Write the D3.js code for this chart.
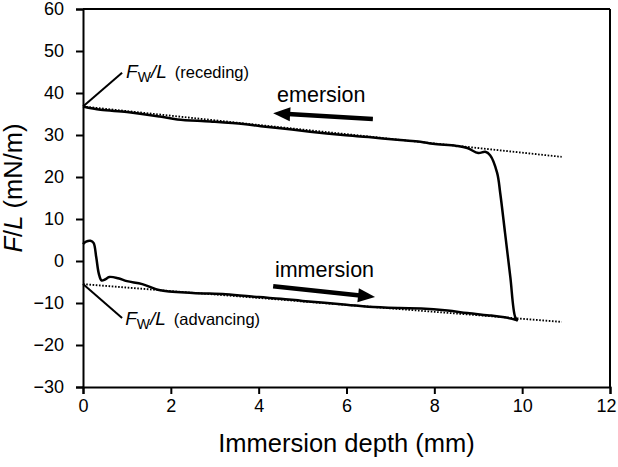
<!DOCTYPE html>
<html><head><meta charset="utf-8">
<script src="https://cdn.jsdelivr.net/npm/d3@7/dist/d3.min.js"></script>
<style>body{margin:0;background:#fff}svg{display:block}text{font-family:"Liberation Sans",Arial,sans-serif;fill:#000}</style>
</head><body><svg id="c" width="618" height="467"></svg>
<script>
// ---- data ----
const xTicks = [0, 2, 4, 6, 8, 10, 12];
const yTicks = [-30, -20, -10, 0, 10, 20, 30, 40, 50, 60];
const xTitle = "Immersion depth (mm)";
const immersionDepth = [0, 0.07, 0.17, 0.24, 0.3, 0.36, 0.42, 0.5, 0.6, 0.8, 1.0, 1.35, 1.73, 2.5, 3.25, 4.0, 4.5, 5.0, 6.0, 6.5, 7.2, 7.7, 8.3, 8.75, 9.3, 9.6, 9.85, 9.9];
const immersionForce = [4.0, 4.6, 4.8, 4.3, 1.0, -3.0, -4.6, -4.4, -3.8, -4.1, -4.8, -5.5, -6.9, -7.6, -7.9, -8.6, -9.0, -9.5, -10.4, -10.9, -11.2, -11.3, -11.8, -12.4, -13.0, -13.4, -14.0, -14.2];
const emersionDepth = [9.9, 9.84, 9.73, 9.61, 9.5, 9.43, 9.27, 9.16, 9.0, 8.75, 8.5, 7.97, 7.68, 7.22, 6.5, 5.92, 5.17, 4.6, 4.05, 3.65, 2.9, 2.15, 1.75, 1.0, 0.4, 0];
const emersionForce = [-14.2, -13.3, -3.8, 6.7, 16.2, 21.0, 25.2, 26.0, 25.7, 26.9, 27.4, 27.9, 28.4, 28.8, 29.5, 30.0, 30.8, 31.5, 32.1, 32.6, 33.2, 33.7, 34.4, 35.5, 36.0, 36.8];
const recedingFitDepth = [0, 10.9];
const recedingFitForce = [36.8, 24.8];
const advancingFitDepth = [0, 10.9];
const advancingFitForce = [-5.5, -14.5];
const emersionArrow = [[6.6, 33.8], [4.33, 35.2]];
const immersionArrow = [[4.33, -6.0], [6.65, -8.6]];

// ---- layout ----
const svg = d3.select("#c");
const x = d3.scaleLinear().domain([0, 12]).range([83, 610]);
const y = d3.scaleLinear().domain([-30, 60]).range([387, 9]);

// frame (top + right)
svg.append("line").attr("x1", x(0)).attr("x2", x(12)).attr("y1", y(60)).attr("y2", y(60)).attr("stroke", "#000").attr("stroke-width", 2);
svg.append("line").attr("x1", x(12)).attr("x2", x(12)).attr("y1", y(60)).attr("y2", y(-30)).attr("stroke", "#000").attr("stroke-width", 2);

const xAxis = svg.append("g").attr("transform", `translate(0,${y(-30)})`)
  .call(d3.axisBottom(x).tickValues(xTicks).tickSize(7).tickPadding(5).tickFormat(d3.format("d")));
const yAxis = svg.append("g").attr("transform", `translate(${x(0)},0)`)
  .call(d3.axisLeft(y).tickValues(yTicks).tickSize(7).tickPadding(12).tickFormat(d3.format("d")));
[xAxis, yAxis].forEach(g => {
  g.select(".domain").attr("stroke", "#000").attr("stroke-width", 2);
  g.selectAll(".tick line").attr("stroke", "#000").attr("stroke-width", 2);
  g.selectAll(".tick text").attr("font-size", 18).attr("font-family", '"Liberation Sans",Arial,sans-serif').attr("fill", "#000");
});
// keep the last x label inside the window
xAxis.selectAll(".tick text").filter(d => d === 12).attr("dx", -4);

// titles
svg.append("text").attr("x", (x(0) + x(12)) / 2).attr("y", 452).attr("text-anchor", "middle").attr("font-size", 25.5).text(xTitle);
const yt = svg.append("text").attr("transform", `translate(22,188) rotate(-90)`).attr("text-anchor", "middle").attr("font-size", 25.5);
yt.append("tspan").attr("font-style", "italic").text("F");
yt.append("tspan").text("/");
yt.append("tspan").attr("font-style", "italic").text("L");
yt.append("tspan").text(" (mN/m)");

// fit lines (dotted)
const fitLine = d3.line().x(d => x(d[0])).y(d => y(d[1]));
svg.append("path").attr("d", fitLine(d3.zip(recedingFitDepth, recedingFitForce))).attr("fill", "none").attr("stroke", "#000").attr("stroke-width", 1.8).attr("stroke-dasharray", "1.6,1.6");
svg.append("path").attr("d", fitLine(d3.zip(advancingFitDepth, advancingFitForce))).attr("fill", "none").attr("stroke", "#000").attr("stroke-width", 1.8).attr("stroke-dasharray", "1.6,1.6");

// data curves
const curve = d3.line().x(d => x(d[0])).y(d => y(d[1])).curve(d3.curveCatmullRom.alpha(0.5));
svg.append("path").attr("d", curve(d3.zip(immersionDepth, immersionForce))).attr("fill", "none").attr("stroke", "#000").attr("stroke-width", 2.5).attr("stroke-linejoin", "round");
svg.append("path").attr("d", curve(d3.zip(emersionDepth, emersionForce))).attr("fill", "none").attr("stroke", "#000").attr("stroke-width", 2.5).attr("stroke-linejoin", "round");

// arrows
function arrow(pts) {
  const [a, b] = pts;
  const x1 = x(a[0]), y1 = y(a[1]), x2 = x(b[0]), y2 = y(b[1]);
  const ang = Math.atan2(y2 - y1, x2 - x1);
  const L = 17, W = 7;
  const bx = x2 - L * Math.cos(ang), by = y2 - L * Math.sin(ang);
  svg.append("line").attr("x1", x1).attr("y1", y1).attr("x2", bx + 2 * Math.cos(ang)).attr("y2", by + 2 * Math.sin(ang)).attr("stroke", "#000").attr("stroke-width", 4.5);
  const p = [[x2, y2], [bx - W * Math.sin(ang), by + W * Math.cos(ang)], [bx + W * Math.sin(ang), by - W * Math.cos(ang)]];
  svg.append("path").attr("d", "M" + p.map(q => q.join(",")).join("L") + "Z").attr("fill", "#000");
}
arrow(emersionArrow);
arrow(immersionArrow);
svg.append("text").attr("x", x(4.42)).attr("y", y(37.9)).attr("font-size", 21.5).text("emersion");
svg.append("text").attr("x", x(4.37)).attr("y", y(-3.8)).attr("font-size", 21.5).text("immersion");

// annotations
function label(px, py, side) {
  const t = svg.append("text").attr("x", px).attr("y", py).attr("font-size", 19);
  t.append("tspan").attr("font-style", "italic").text("F");
  t.append("tspan").attr("font-size", 14).attr("dy", 4).text("W");
  t.append("tspan").attr("font-style", "italic").attr("dy", -4).text("/L");
  t.append("tspan").attr("font-size", 16.5).attr("dx", 8).text("(" + side + ")");
}
svg.append("line").attr("x1", x(recedingFitDepth[0])).attr("y1", y(recedingFitForce[0])).attr("x2", x(0.89)).attr("y2", y(44.8)).attr("stroke", "#000").attr("stroke-width", 2);
svg.append("line").attr("x1", x(advancingFitDepth[0])).attr("y1", y(advancingFitForce[0])).attr("x2", x(0.89)).attr("y2", y(-13.6)).attr("stroke", "#000").attr("stroke-width", 2);
label(x(0.98), y(43.6), "receding");
label(x(0.96), y(-15.2), "advancing");
</script></body></html>
